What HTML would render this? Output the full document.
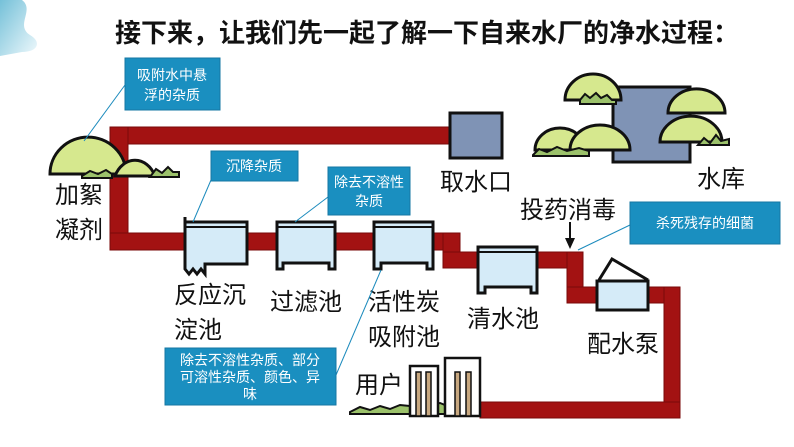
<!DOCTYPE html>
<html><head><meta charset="utf-8"><style>
body{margin:0;width:794px;height:447px;overflow:hidden;background:#fff;font-family:"Liberation Sans","Noto Sans CJK SC",sans-serif}
svg{position:absolute;left:0;top:0}
.t{font-family:"Liberation Sans","Noto Sans CJK SC",sans-serif;fill:#111}
.c{font-family:"Liberation Sans","Noto Sans CJK SC",sans-serif;fill:#fff;font-size:14px}
</style></head><body>
<svg width="794" height="447" viewBox="0 0 794 447">
<defs><linearGradient id="sm" x1="0" y1="0" x2="1" y2="1"><stop offset="0" stop-color="#3aa6c8"/><stop offset="1" stop-color="#e8f6fb"/></linearGradient></defs>
<path d="M0 0 L22 0 C35 10 15 25 30 35 C42 42 38 52 22 52 L0 56Z" fill="url(#sm)" opacity="0.7"/>
<text x="115" y="42" font-size="26" font-weight="bold" class="t">接下来，让我们先一起了解一下自来水厂的净水过程：</text>

<g fill="#a31212" stroke="#7a0a0a" stroke-width="1">
<rect x="110" y="127" width="345" height="17"/>
<rect x="110" y="127" width="18" height="123"/>
<rect x="110" y="233" width="350" height="17"/>
<rect x="443" y="233" width="17" height="35"/>
<rect x="443" y="252" width="140" height="16"/>
<rect x="567" y="252" width="16" height="51"/>
<rect x="567" y="287" width="113" height="16"/>
<rect x="664" y="287" width="16" height="131"/>
<rect x="480" y="402" width="200" height="16"/>
</g>

<rect x="450" y="113" width="52" height="45" fill="#7f93b5" stroke="#111" stroke-width="3"/>
<rect x="613" y="87" width="77" height="75" fill="#7f93b5" stroke="#111" stroke-width="3"/>
<g fill="#d6e88e" stroke="#111" stroke-width="3">
<path d="M565 100 A28 26 0 0 1 621 100Z"/>
<path d="M535 150 A25 22 0 0 1 585 150Z"/>
<path d="M570 150 A30 25 0 0 1 630 150Z"/>
<path d="M668 113 A26 22 0 0 1 725 113Z"/>
<path d="M660 142 A30 25 0 0 1 722 142Z"/>
<path d="M50 174 A35 34 0 0 1 126 174Z"/>
<path d="M115 176 A22 27 0 0 1 155 176Z"/>
</g>
<g fill="#9cc26b" stroke="#111" stroke-width="2">
<path d="M580 100 l5-6 5 4 6-5 5 5 6-3 5 5 4 0v4h-36z"/>
<path d="M533 155 l6-6 8 3 10-5 10 4 12-3 10 3v5h-56z"/>
<path d="M698 145 l6-7 6 5 6-8 5 6 8-2v6h-31z"/>
<path d="M82 176 l8-5 8 3 8-4 6 4v4h-30z"/>
<path d="M150 177 l6-8 6 4 6-6 5 5 6 0v5h-29z"/>
<path d="M350 412 l10-5 10 3 10-4 10 3 10-4 20 2 20-4 10 4 10 -2v9h-110z"/>
</g>

<g fill="#d5ebf8" stroke="#111" stroke-width="3">
<path d="M185 222 h62 v42 h-42 v10 l-4 -5 -4 5 -4 -5 -4 5 -4 -5 v-52z"/>
<path d="M277 222 h58 v47 h-6 v-6 h-46 v6 h-6z"/>
<path d="M374 222 h59 v47 h-6 v-6 h-46 v6 h-7z"/>
<path d="M478 247 h59 v46 h-6 v-6 h-46 v6 h-7z"/>
<rect x="597" y="281" width="51" height="29"/>
</g>
<g stroke="#111" stroke-width="2" fill="none">
<line x1="185" y1="227" x2="247" y2="227"/><line x1="277" y1="227" x2="335" y2="227"/>
<line x1="374" y1="227" x2="433" y2="227"/><line x1="478" y1="252" x2="537" y2="252"/>
<path d="M599 280 L612 259 L648 280" stroke-width="3"/>
</g>
<g stroke="#111" stroke-width="2.5" fill="#fff">
<rect x="410" y="366" width="28" height="50"/><rect x="445" y="358" width="35" height="58"/>
</g>
<g fill="#c8a880" stroke="#111" stroke-width="1.5">
<rect x="416" y="372" width="5" height="44"/><rect x="426" y="372" width="5" height="44"/>
<rect x="455" y="372" width="5" height="44"/><rect x="466" y="372" width="5" height="44"/>
</g>

<line x1="570" y1="222" x2="570" y2="240" stroke="#111" stroke-width="2"/>
<path d="M565 238 L575 238 L570 249Z" fill="#111"/>

<g class="t" font-size="24">
<text x="55" y="203" class="t">加絮</text><text x="55" y="238" class="t">凝剂</text>
<text x="440" y="190" class="t">取水口</text>
<text x="697" y="187" class="t">水库</text>
<text x="520" y="218" class="t">投药消毒</text>
<text x="174" y="303" class="t">反应沉</text><text x="174" y="338" class="t">淀池</text>
<text x="270" y="310" class="t">过滤池</text>
<text x="368" y="310" class="t">活性炭</text><text x="368" y="345" class="t">吸附池</text>
<text x="467" y="327" class="t">清水池</text>
<text x="587" y="352" class="t">配水泵</text>
<text x="355" y="393" class="t">用户</text>
</g>

<g stroke="#1c8bbd" stroke-width="1">
<line x1="125" y1="85" x2="84" y2="141"/>
<line x1="211" y1="180" x2="193" y2="222"/>
<line x1="328" y1="197" x2="295" y2="222"/>
<line x1="630" y1="225" x2="578" y2="250"/>
<line x1="336" y1="375" x2="381" y2="270"/>
</g>
<g fill="#1a8fc0" stroke="#1577a3" stroke-width="1">
<rect x="125" y="58" width="95" height="52"/>
<rect x="211" y="151" width="87" height="30"/>
<rect x="328" y="167" width="82" height="48"/>
<rect x="630" y="202" width="150" height="42"/>
<rect x="165" y="348" width="171" height="57"/>
</g>
<text x="172" y="80" text-anchor="middle" class="c">吸附水中悬</text>
<text x="172" y="100" text-anchor="middle" class="c">浮的杂质</text>
<text x="254" y="171" text-anchor="middle" class="c">沉降杂质</text>
<text x="369" y="187" text-anchor="middle" class="c">除去不溶性</text>
<text x="369" y="206" text-anchor="middle" class="c">杂质</text>
<text x="705" y="228" text-anchor="middle" class="c">杀死残存的细菌</text>
<text x="250" y="365" text-anchor="middle" class="c">除去不溶性杂质、部分</text>
<text x="250" y="382" text-anchor="middle" class="c">可溶性杂质、颜色、异</text>
<text x="250" y="399" text-anchor="middle" class="c">味</text>
</svg>
</body></html>
